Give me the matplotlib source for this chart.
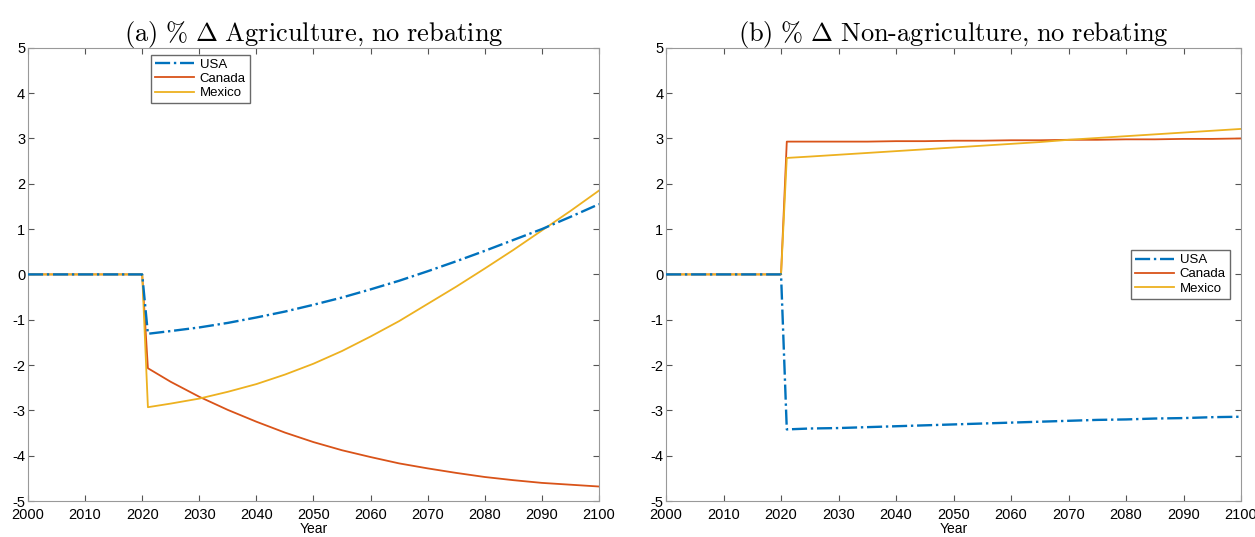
import matplotlib
matplotlib.use("Agg")
import matplotlib.pyplot as plt

plt.rcParams["font.family"] = ["Liberation Sans", "DejaVu Sans"]
plt.rcParams["mathtext.fontset"] = "cm"
plt.rcParams["axes.unicode_minus"] = False

# years of the simulated paths
years = [2000, 2020, 2021, 2025, 2030, 2035, 2040, 2045, 2050, 2055, 2060,
         2065, 2070, 2075, 2080, 2085, 2090, 2095, 2100]

# (a) agriculture, % change
agri_usa = [0, 0, -1.31, -1.25, -1.17, -1.07, -0.95, -0.82, -0.67, -0.51, -0.33,
            -0.14, 0.07, 0.29, 0.52, 0.76, 1.00, 1.27, 1.55]
agri_can = [0, 0, -2.07, -2.37, -2.70, -2.99, -3.25, -3.49, -3.70, -3.88, -4.03,
            -4.17, -4.28, -4.38, -4.47, -4.54, -4.60, -4.64, -4.68]
agri_mex = [0, 0, -2.93, -2.85, -2.74, -2.59, -2.42, -2.21, -1.97, -1.69, -1.37,
            -1.03, -0.65, -0.27, 0.13, 0.54, 0.97, 1.40, 1.85]

# (b) non-agriculture, % change
nonagri_usa = [0, 0, -3.42, -3.40, -3.39, -3.37, -3.35, -3.33, -3.31, -3.29, -3.27,
               -3.25, -3.23, -3.21, -3.20, -3.18, -3.17, -3.15, -3.14]
nonagri_can = [0, 0, 2.93, 2.93, 2.93, 2.93, 2.94, 2.94, 2.95, 2.95, 2.96,
               2.96, 2.97, 2.97, 2.98, 2.98, 2.99, 2.99, 3.00]
nonagri_mex = [0, 0, 2.57, 2.60, 2.64, 2.68, 2.72, 2.76, 2.80, 2.84, 2.88,
               2.92, 2.97, 3.01, 3.05, 3.09, 3.13, 3.17, 3.21]

titles = [r"$\mathrm{(a)\ \%\ \Delta\ Agriculture{,}\ no\ rebating}$",
          r"$\mathrm{(b)\ \%\ \Delta\ Non\text{-}agriculture{,}\ no\ rebating}$"]

c_usa = "#0072BD"
c_can = "#D95319"
c_mex = "#EDB120"

fig = plt.figure(figsize=(12.55, 5.37), dpi=100)
ax1 = fig.add_axes([0.0223, 0.067, 0.4550, 0.844])
ax2 = fig.add_axes([0.5307, 0.067, 0.4582, 0.844])

panels = [(ax1, agri_usa, agri_can, agri_mex),
          (ax2, nonagri_usa, nonagri_can, nonagri_mex)]

for i, (ax, us, ca, mx) in enumerate(panels):
    ax.plot(years, us, linestyle="-.", color=c_usa, lw=1.7, label="USA", zorder=3)
    ax.plot(years, ca, linestyle="-", color=c_can, lw=1.3, label="Canada", zorder=2)
    ax.plot(years, mx, linestyle="-", color=c_mex, lw=1.3, label="Mexico", zorder=2)
    ax.set_xlim(2000, 2100)
    ax.set_ylim(-5, 5)
    ax.set_xticks(range(2000, 2101, 10))
    ax.set_yticks(range(-5, 6))
    ax.tick_params(direction="in", top=True, right=True, length=4, width=0.8,
                   color="#555555", labelsize=10.5, pad=2)
    ax.tick_params(axis="x", pad=5)
    for s in ax.spines.values():
        s.set_color("#999999")
        s.set_linewidth(0.8)
    ax.set_xlabel("Year", fontsize=10, labelpad=0)
    ax.set_title(titles[i], fontsize=19, pad=5)

leg_kw = dict(fontsize=9.5, frameon=True, fancybox=False, edgecolor="#444444",
              handlelength=3.0, borderpad=0.3, labelspacing=0.15,
              handletextpad=0.4, borderaxespad=0)
ax1.legend(loc="upper left", bbox_to_anchor=(0.215, 0.985), **leg_kw)
ax2.legend(loc="upper right", bbox_to_anchor=(0.98, 0.554), **leg_kw)

fig.savefig("out.png", dpi=100)
